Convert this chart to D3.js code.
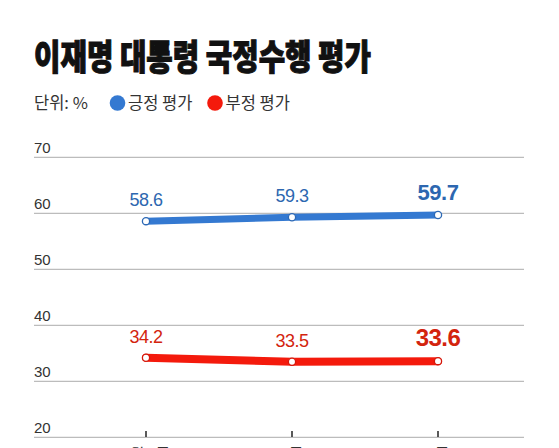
<!DOCTYPE html>
<html>
<head>
<meta charset="utf-8">
<script src="https://cdn.jsdelivr.net/npm/d3@7"></script>
<style>
  html, body { margin: 0; padding: 0; background: #fff; overflow: hidden; }
  svg { display: block; }
</style>
</head>
<body>
<div id="chart"></div>
<script>
// data
const periods = ["6월 2주", "3주", "4주"];
const positive = [58.6, 59.3, 59.7];
const negative = [34.2, 33.5, 33.6];
const yTicks = [20, 30, 40, 50, 60, 70];

const W = 559, H = 448;
const BLUE = "#3479d1", BLUE_TXT = "#2d67b0";
const RED = "#f41a0c", RED_TXT = "#d3240e";
const KR = "'Noto Sans CJK KR', 'Noto Sans', sans-serif";
const NUM = "'Liberation Sans', Arial, sans-serif";

var svg = d3.select("#chart").append("svg")
    .attr("width", W).attr("height", H)
    .attr("viewBox", `0 0 ${W} ${H}`);

svg.append("rect").attr("width", W).attr("height", H).attr("fill", "#fff");

var x = d3.scalePoint().domain(periods).range([146, 438]);
var y = d3.scaleLinear().domain([20, 70]).range([437.3, 157.3]);

// title (stroke to get the heavy look)
svg.append("text")
    .attr("x", 34).attr("y", 70)
    .attr("font-family", KR).attr("font-weight", 900)
    .attr("font-size", 35).attr("fill", "#111")
    .attr("stroke", "#111").attr("stroke-width", 1.1)
    .attr("textLength", 337).attr("lengthAdjust", "spacingAndGlyphs")
    .text("이재명 대통령 국정수행 평가");

// legend
var lg = svg.append("g").attr("font-family", KR).attr("font-size", 16.5).attr("fill", "#333");
lg.append("text").attr("x", 34).attr("y", 109).text("단위: %");
var legendItems = [
    {label: "긍정 평가", color: BLUE, cx: 117.5},
    {label: "부정 평가", color: RED, cx: 215}
];
legendItems.forEach(function(d){
    lg.append("circle").attr("cx", d.cx).attr("cy", 103).attr("r", 7.8).attr("fill", d.color);
    lg.append("text").attr("x", d.cx + 10.5).attr("y", 109).text(d.label);
});

// grid
var grid = svg.append("g");
grid.selectAll("line").data(yTicks).enter().append("line")
    .attr("x1", 34).attr("x2", 524)
    .attr("y1", d => y(d)).attr("y2", d => y(d))
    .attr("stroke", "#bcbcbc").attr("stroke-width", 1.3);
grid.selectAll("text").data(yTicks).enter().append("text")
    .attr("x", 34).attr("y", d => y(d) - 4.6)
    .attr("font-family", NUM).attr("font-size", 15).attr("fill", "#333")
    .text(d => d);

// x axis ticks and labels (cut off at the bottom edge, as in the source)
var xa = svg.append("g");
xa.selectAll("line").data(periods).enter().append("line")
    .attr("x1", d => x(d)).attr("x2", d => x(d))
    .attr("y1", 431).attr("y2", 437)
    .attr("stroke", "#222").attr("stroke-width", 1.5);
xa.selectAll("text").data(periods).enter().append("text")
    .attr("x", d => x(d)).attr("y", 459)
    .attr("text-anchor", "middle")
    .attr("font-family", KR).attr("font-size", 15).attr("fill", "#333")
    .text(d => d);

var line = d3.line().x((d, i) => x(periods[i])).y(d => y(d));

function drawSeries(values, color, txtColor, width, lastSize, labelGap){
    var g = svg.append("g");
    g.append("path").datum(values)
        .attr("d", line)
        .attr("fill", "none")
        .attr("stroke", color)
        .attr("stroke-width", width)
        .attr("stroke-linecap", "round");
    g.selectAll("circle").data(values).enter().append("circle")
        .attr("cx", (d, i) => x(periods[i])).attr("cy", d => y(d))
        .attr("r", 3.6)
        .attr("fill", "#fff")
        .attr("stroke", d3.color(color).darker(0.4))
        .attr("stroke-width", 1.3);
    g.selectAll("text").data(values).enter().append("text")
        .attr("x", (d, i) => x(periods[i])).attr("y", d => y(d) - labelGap)
        .attr("text-anchor", "middle")
        .attr("font-family", NUM)
        .attr("font-size", (d, i) => i === values.length - 1 ? lastSize : 18)
        .attr("font-weight", (d, i) => i === values.length - 1 ? 700 : 400)
        .attr("letter-spacing", -0.5)
        .attr("fill", txtColor)
        .text(d => d.toFixed(1));
}

drawSeries(positive, BLUE, BLUE_TXT, 7, 22, 15);
drawSeries(negative, RED, RED_TXT, 8, 24, 15);
</script>
</body>
</html>
